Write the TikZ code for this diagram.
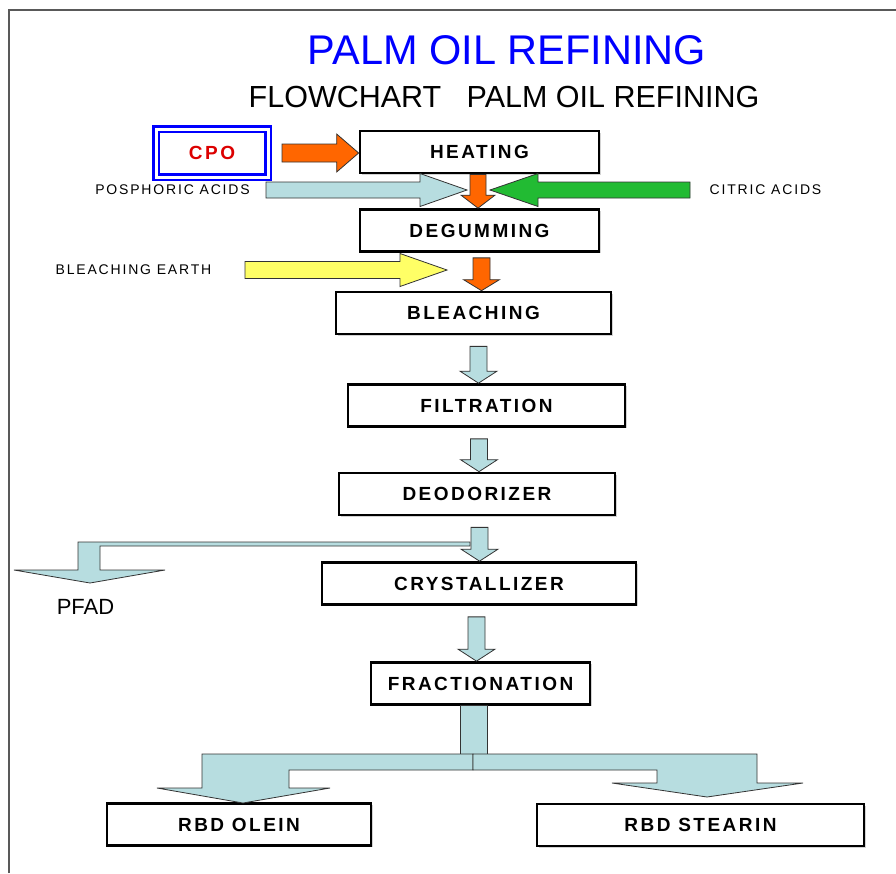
\documentclass[tikz,border=0pt]{standalone}
\usepackage{fontspec}
\setmainfont{Liberation Sans}
\newfontfamily\boxfont[LetterSpace=13]{Liberation Sans}
\usetikzlibrary{calc, shadows}

\definecolor{pipe}{RGB}{183,221,224}
\definecolor{hot}{RGB}{255,102,0}
\definecolor{acidgreen}{RGB}{34,187,51}
\definecolor{earth}{RGB}{255,255,102}
\definecolor{titleblue}{RGB}{0,0,255}
\definecolor{cpored}{RGB}{220,0,0}

\tikzset{
  stage/.style={draw, line width=2.7pt, fill=white, minimum height=42pt, inner sep=0pt,
                drop shadow={shadow xshift=1.5pt, shadow yshift=-1.5pt, opacity=0.35},
                font=\boxfont\bfseries\fontsize{19}{22}\selectfont},
  feed/.style={font=\boxfont\fontsize{14}{16}\selectfont},
  blockarrow/.style={draw=black!80, line width=0.8pt, line join=miter}
}

% fill, tail, tip, shaft half width, head half width, head length
\newcommand{\blockarrow}[6]{%
  \path ($(#3)!#6!(#2)$) coordinate (hb);
  \draw[blockarrow, fill=#1] ($(#2)!#4!90:(#3)$) -- ($(hb)!#4!-90:(#2)$) -- ($(hb)!#5!-90:(#2)$)
    -- (#3) -- ($(hb)!#5!90:(#2)$) -- ($(hb)!#4!90:(#2)$) -- ($(#2)!#4!-90:(#3)$) -- cycle;}

\begin{document}
\begin{tikzpicture}[x=1pt, y=-1pt]
  \useasboundingbox (0,0) rectangle (896,873);
  \draw[black!65, line width=1.5pt] (9,873) -- (9,10) -- (896,10);

  \node[text=titleblue, font=\fontsize{41.5}{48}\selectfont] (title) at (507,50) {PALM OIL REFINING};
  \node[font=\fontsize{30.5}{36}\selectfont] (subtitle) at (504,97) {FLOWCHART~~~PALM OIL REFINING};

  \node[stage, minimum width=239pt] (heat) at (479.5,152) {HEATING};
  \node[stage, minimum width=239pt] (degum) at (479.5,230.5) {DEGUMMING};
  \node[stage, minimum width=275pt] (bleach) at (473.5,313) {BLEACHING};
  \node[stage, minimum width=277pt] (filt) at (486.5,405.5) {FILTRATION};
  \node[stage, minimum width=276pt] (deo) at (477,494) {DEODORIZER};
  \node[stage, minimum width=314pt] (cryst) at (479,583.5) {CRYSTALLIZER};
  \node[stage, minimum width=219pt] (frac) at (480.5,683.5) {FRACTIONATION};
  \node[stage, minimum width=264pt] (olein) at (239,824.5) {RBD OLEIN};
  \node[stage, minimum width=327pt] (stearin) at (700.5,825) {RBD STEARIN};

  \node[draw=titleblue, line width=2.5pt, double=white, double distance=3pt, minimum width=112pt,
        minimum height=48pt, text=cpored, font=\boxfont\bfseries\fontsize{19}{22}\selectfont] (cpo) at (212,153) {CPO};

  \node[feed] (phos) at (172.5,190) {POSPHORIC ACIDS};
  \node[feed] (citric) at (765.5,190) {CITRIC ACIDS};
  \node[feed] (earthlbl) at (133.5,270) {BLEACHING EARTH};
  \node[font=\fontsize{22}{26}\selectfont] (pfad) at (85.5,607) {PFAD};

  \coordinate (cpotail) at (282,153);
  \coordinate (phostail) at (266,190);
  \coordinate (phostip) at (467,190);
  \coordinate (citrictail) at (690,190);
  \coordinate (citrictip) at (490,190);
  \coordinate (earthtail) at (245,270);
  \coordinate (earthtip) at (447,270);

  \blockarrow{hot}{cpotail}{cpotail -| heat.west}{9pt}{19pt}{22pt}
  \blockarrow{pipe}{phostail}{phostip}{8pt}{16.5pt}{47pt}
  \blockarrow{acidgreen}{citrictail}{citrictip}{8pt}{16.5pt}{48pt}
  \blockarrow{earth}{earthtail}{earthtip}{8.5pt}{16.5pt}{47pt}

  \coordinate (s) at (478,0);
  \blockarrow{hot}{heat.south -| s}{degum.north -| s}{8pt}{17pt}{13pt}
  \coordinate (s) at (481.5,0);
  \path (degum.south -| s) ++(0,5) coordinate (top);
  \blockarrow{hot}{top}{bleach.north -| s}{8.5pt}{18pt}{11pt}

  \draw[blockarrow, fill=pipe] (470,542) -- (78,542) -- (78,570) -- (14,570) -- (90,583)
    -- (165,570) -- (100,570) -- (100,546) -- (470,546) -- cycle;

  \foreach \a/\b/\x in {bleach/filt/478.5, filt/deo/479, deo/cryst/479.5, cryst/frac/476.5} {
    \coordinate (s) at (\x,0);
    \path (\a.south -| s) ++(0,11) coordinate (top);
    \blockarrow{pipe}{top}{\b.north -| s}{8.5pt}{18.5pt}{12pt}
  }

  \draw[blockarrow, fill=pipe] (frac.south -| 460,0) rectangle (487,754);
  \draw[blockarrow, fill=pipe] (473,754) -- (202,754) -- (202,788) -- (157,788) -- (243,803)
    -- (330,788) -- (289,788) -- (289,770) -- (473,770) -- cycle;
  \draw[blockarrow, fill=pipe] (473,754) -- (757,754) -- (757,783) -- (803,783) -- (707,797)
    -- (612,783) -- (657,783) -- (657,770) -- (473,770) -- cycle;
\end{tikzpicture}
\end{document}
